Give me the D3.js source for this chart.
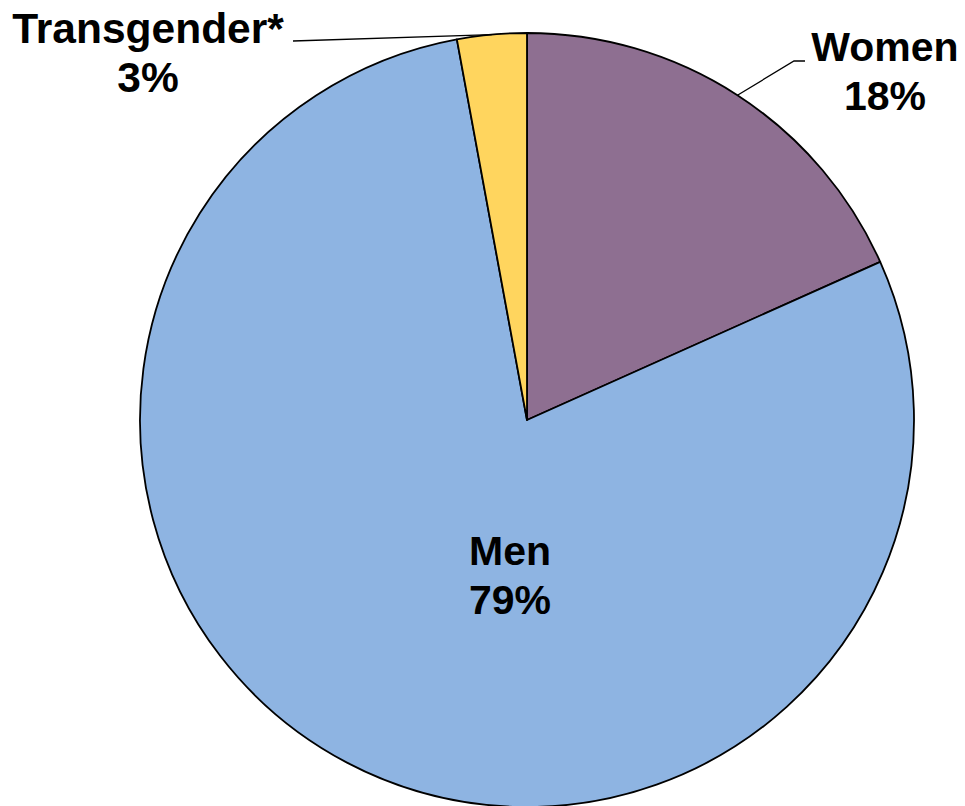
<!DOCTYPE html>
<html>
<head>
<meta charset="utf-8">
<script src="https://cdn.jsdelivr.net/npm/d3@7/dist/d3.min.js"></script>
<style>
  body { margin: 0; background: #fff; }
  svg { display: block; }
  text { font-family: "Liberation Sans", Arial, sans-serif; font-weight: bold; font-size: 41px; fill: #000; }
</style>
</head>
<body>
<svg></svg>
<script>
var categories = ["Women", "Men", "Transgender*"];
var shares = [18.3, 78.8, 2.9];
var labels = ["18%", "79%", "3%"];
var colors = ["#8E6F91", "#8EB4E2", "#FFD55E"];

var screen = { width: 965, height: 806 };
var cx = 527, cy = 420, radius = 387;

var svg = d3.select("svg")
            .attr("width", screen.width)
            .attr("height", screen.height);

var data = categories.map(function(c, i) {
  return { name: c, value: shares[i], label: labels[i], color: colors[i] };
});

var pie = d3.pie()
            .sort(null)
            .value(function(d) { return d.value; });

var arc = d3.arc().innerRadius(0).outerRadius(radius);

var plot = svg.append("g")
              .attr("transform", "translate(" + cx + "," + cy + ")");

var slices = pie(data);

plot.selectAll("path")
    .data(slices)
    .enter()
    .append("path")
    .attr("d", arc)
    .attr("fill", function(d) { return d.data.color; })
    .attr("stroke", "#000")
    .attr("stroke-width", 1.8)
    .attr("stroke-linejoin", "round");

// point on the rim at the middle of a slice
function rim(d) {
  var a = (d.startAngle + d.endAngle) / 2;
  return [radius * Math.sin(a), -radius * Math.cos(a)];
}

// leader lines
var women = slices[0], men = slices[1], trans = slices[2];
var pw = rim(women);
plot.append("polyline")
    .attr("points", [pw, [794 - cx, 61 - cy], [805 - cx, 61 - cy]].map(function(p) { return p.join(","); }).join(" "))
    .attr("fill", "none")
    .attr("stroke", "#000")
    .attr("stroke-width", 1.3);

var pt = rim(trans);
plot.append("polyline")
    .attr("points", [pt, [293 - cx, 41 - cy]].map(function(p) { return p.join(","); }).join(" "))
    .attr("fill", "none")
    .attr("stroke", "#000")
    .attr("stroke-width", 1.3);

// labels
function label(x, y, d, size) {
  var t = svg.append("text")
             .attr("text-anchor", "middle");
  if (size) t.style("font-size", size + "px");
  t.append("tspan").attr("x", x).attr("y", y).text(d.data.name);
  t.append("tspan").attr("x", x).attr("y", y + 49).text(d.data.label);
}

label(885, 61, women);
label(148, 43, trans, 42.5);
label(cx - 17, 565, men);
</script>
</body>
</html>
